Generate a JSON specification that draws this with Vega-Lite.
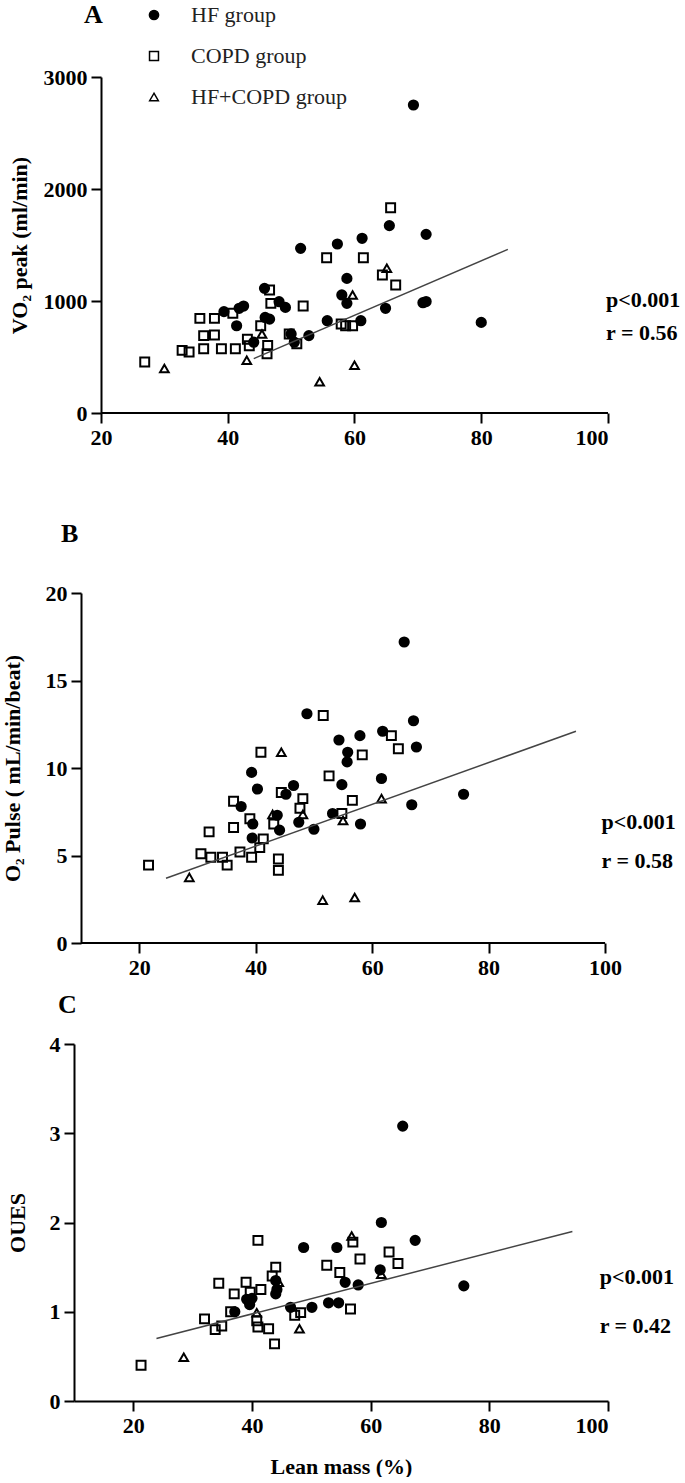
{
  "$schema": "https://vega.github.io/schema/vega-lite/v6.json",
  "background": "white",
  "padding": {"left": 1, "top": 2, "right": 0, "bottom": 0},
  "config": {
    "view": {"stroke": null},
    "font": "Liberation Serif",
    "axis": {"grid": false, "domainColor": "black", "domainWidth": 2, "tickColor": "black", "tickWidth": 2, "tickSize": 10, "format": "d",
      "labelFont": "Liberation Serif", "labelFontSize": 22, "labelFontWeight": "bold", "labelColor": "black", "labelPadding": 4,
      "titleFont": "Liberation Serif", "titleFontSize": 22, "titleFontWeight": "bold", "titleColor": "black", "titlePadding": 16},
    "legend": {"orient": "none", "legendX": 69, "legendY": -73, "title": null, "labelFont": "Liberation Serif", "labelFontSize": 22, "labelFontWeight": "normal", "labelColor": "#222", "rowPadding": 19, "labelOffset": 26, "padding": 0},
    "title": {"font": "Liberation Serif", "fontSize": 26, "fontWeight": "bold", "anchor": "start", "frame": "group", "color": "black"}
  },
  "datasets": {
    "A": [
      {"x": 69.3, "y": 2750, "g": "HF group"}, {"x": 65.5, "y": 1673, "g": "HF group"}, {"x": 71.3, "y": 1595, "g": "HF group"},
      {"x": 61.2, "y": 1560, "g": "HF group"}, {"x": 57.3, "y": 1509, "g": "HF group"}, {"x": 51.5, "y": 1470, "g": "HF group"},
      {"x": 58.8, "y": 1202, "g": "HF group"}, {"x": 58.0, "y": 1054, "g": "HF group"}, {"x": 58.8, "y": 979, "g": "HF group"},
      {"x": 70.8, "y": 985, "g": "HF group"}, {"x": 71.3, "y": 995, "g": "HF group"}, {"x": 64.9, "y": 935, "g": "HF group"},
      {"x": 45.8, "y": 1113, "g": "HF group"}, {"x": 48.1, "y": 994, "g": "HF group"}, {"x": 49.1, "y": 943, "g": "HF group"},
      {"x": 42.5, "y": 955, "g": "HF group"}, {"x": 41.8, "y": 935, "g": "HF group"}, {"x": 39.4, "y": 905, "g": "HF group"},
      {"x": 45.9, "y": 853, "g": "HF group"}, {"x": 46.6, "y": 838, "g": "HF group"}, {"x": 41.4, "y": 779, "g": "HF group"},
      {"x": 44.1, "y": 632, "g": "HF group"}, {"x": 50.0, "y": 706, "g": "HF group"}, {"x": 50.5, "y": 632, "g": "HF group"},
      {"x": 52.8, "y": 691, "g": "HF group"}, {"x": 55.7, "y": 824, "g": "HF group"}, {"x": 61.0, "y": 824, "g": "HF group"},
      {"x": 80.0, "y": 809, "g": "HF group"},
      {"x": 65.7, "y": 1833, "g": "COPD group"}, {"x": 55.6, "y": 1387, "g": "COPD group"}, {"x": 61.4, "y": 1387, "g": "COPD group"},
      {"x": 64.4, "y": 1232, "g": "COPD group"}, {"x": 66.5, "y": 1143, "g": "COPD group"}, {"x": 51.9, "y": 955, "g": "COPD group"},
      {"x": 46.6, "y": 1098, "g": "COPD group"}, {"x": 46.8, "y": 979, "g": "COPD group"}, {"x": 40.8, "y": 890, "g": "COPD group"},
      {"x": 35.6, "y": 845, "g": "COPD group"}, {"x": 37.9, "y": 845, "g": "COPD group"}, {"x": 26.9, "y": 456, "g": "COPD group"},
      {"x": 32.8, "y": 559, "g": "COPD group"}, {"x": 33.9, "y": 544, "g": "COPD group"}, {"x": 36.2, "y": 691, "g": "COPD group"},
      {"x": 37.9, "y": 697, "g": "COPD group"}, {"x": 36.2, "y": 574, "g": "COPD group"}, {"x": 39.0, "y": 574, "g": "COPD group"},
      {"x": 41.2, "y": 574, "g": "COPD group"}, {"x": 43.1, "y": 659, "g": "COPD group"}, {"x": 43.4, "y": 600, "g": "COPD group"},
      {"x": 46.2, "y": 529, "g": "COPD group"}, {"x": 46.3, "y": 603, "g": "COPD group"}, {"x": 45.2, "y": 779, "g": "COPD group"},
      {"x": 49.7, "y": 706, "g": "COPD group"}, {"x": 50.9, "y": 618, "g": "COPD group"}, {"x": 57.9, "y": 794, "g": "COPD group"},
      {"x": 58.6, "y": 779, "g": "COPD group"}, {"x": 59.7, "y": 779, "g": "COPD group"},
      {"x": 65.1, "y": 1292, "g": "HF+COPD group"}, {"x": 59.7, "y": 1054, "g": "HF+COPD group"}, {"x": 30.0, "y": 397, "g": "HF+COPD group"},
      {"x": 43.0, "y": 471, "g": "HF+COPD group"}, {"x": 45.4, "y": 706, "g": "HF+COPD group"}, {"x": 60.0, "y": 426, "g": "HF+COPD group"},
      {"x": 54.5, "y": 279, "g": "HF+COPD group"}
    ],
    "B": [
      {"x": 65.5, "y": 17.2, "g": "HF group"}, {"x": 48.8, "y": 13.1, "g": "HF group"}, {"x": 67.1, "y": 12.7, "g": "HF group"},
      {"x": 54.3, "y": 11.6, "g": "HF group"}, {"x": 57.9, "y": 11.85, "g": "HF group"}, {"x": 61.8, "y": 12.1, "g": "HF group"},
      {"x": 67.6, "y": 11.2, "g": "HF group"}, {"x": 55.8, "y": 10.9, "g": "HF group"}, {"x": 55.7, "y": 10.35, "g": "HF group"},
      {"x": 61.6, "y": 9.4, "g": "HF group"}, {"x": 54.8, "y": 9.05, "g": "HF group"}, {"x": 46.5, "y": 9.0, "g": "HF group"},
      {"x": 45.2, "y": 8.5, "g": "HF group"}, {"x": 40.3, "y": 8.8, "g": "HF group"}, {"x": 39.3, "y": 9.75, "g": "HF group"},
      {"x": 37.5, "y": 7.8, "g": "HF group"}, {"x": 39.5, "y": 6.8, "g": "HF group"}, {"x": 39.4, "y": 6.0, "g": "HF group"},
      {"x": 43.7, "y": 7.3, "g": "HF group"}, {"x": 44.1, "y": 6.45, "g": "HF group"}, {"x": 47.4, "y": 6.9, "g": "HF group"},
      {"x": 50.0, "y": 6.5, "g": "HF group"}, {"x": 53.2, "y": 7.4, "g": "HF group"}, {"x": 58.0, "y": 6.8, "g": "HF group"},
      {"x": 66.8, "y": 7.9, "g": "HF group"}, {"x": 75.7, "y": 8.5, "g": "HF group"},
      {"x": 51.6, "y": 13.0, "g": "COPD group"}, {"x": 63.3, "y": 11.85, "g": "COPD group"}, {"x": 64.5, "y": 11.1, "g": "COPD group"},
      {"x": 58.3, "y": 10.75, "g": "COPD group"}, {"x": 52.6, "y": 9.55, "g": "COPD group"}, {"x": 56.6, "y": 8.15, "g": "COPD group"},
      {"x": 40.9, "y": 10.9, "g": "COPD group"}, {"x": 44.4, "y": 8.6, "g": "COPD group"}, {"x": 48.1, "y": 8.25, "g": "COPD group"},
      {"x": 47.6, "y": 7.7, "g": "COPD group"}, {"x": 36.2, "y": 8.1, "g": "COPD group"}, {"x": 39.0, "y": 7.1, "g": "COPD group"},
      {"x": 36.2, "y": 6.6, "g": "COPD group"}, {"x": 32.0, "y": 6.35, "g": "COPD group"}, {"x": 43.1, "y": 6.8, "g": "COPD group"},
      {"x": 41.3, "y": 5.95, "g": "COPD group"}, {"x": 40.7, "y": 5.45, "g": "COPD group"}, {"x": 37.3, "y": 5.2, "g": "COPD group"},
      {"x": 39.3, "y": 4.9, "g": "COPD group"}, {"x": 30.6, "y": 5.1, "g": "COPD group"}, {"x": 32.3, "y": 4.9, "g": "COPD group"},
      {"x": 34.3, "y": 4.9, "g": "COPD group"}, {"x": 35.1, "y": 4.45, "g": "COPD group"}, {"x": 43.9, "y": 4.8, "g": "COPD group"},
      {"x": 43.9, "y": 4.15, "g": "COPD group"}, {"x": 21.6, "y": 4.45, "g": "COPD group"}, {"x": 54.8, "y": 7.4, "g": "COPD group"},
      {"x": 28.6, "y": 3.75, "g": "HF+COPD group"}, {"x": 42.9, "y": 7.35, "g": "HF+COPD group"}, {"x": 44.4, "y": 10.9, "g": "HF+COPD group"},
      {"x": 48.1, "y": 7.35, "g": "HF+COPD group"}, {"x": 55.0, "y": 7.0, "g": "HF+COPD group"}, {"x": 61.6, "y": 8.25, "g": "HF+COPD group"},
      {"x": 51.5, "y": 2.45, "g": "HF+COPD group"}, {"x": 57.0, "y": 2.6, "g": "HF+COPD group"}
    ],
    "C": [
      {"x": 65.4, "y": 3.08, "g": "HF group"}, {"x": 61.8, "y": 2.0, "g": "HF group"}, {"x": 67.5, "y": 1.8, "g": "HF group"},
      {"x": 48.7, "y": 1.72, "g": "HF group"}, {"x": 54.3, "y": 1.72, "g": "HF group"}, {"x": 57.9, "y": 1.3, "g": "HF group"},
      {"x": 55.7, "y": 1.33, "g": "HF group"}, {"x": 61.6, "y": 1.47, "g": "HF group"}, {"x": 75.7, "y": 1.29, "g": "HF group"},
      {"x": 52.9, "y": 1.1, "g": "HF group"}, {"x": 54.6, "y": 1.1, "g": "HF group"}, {"x": 50.1, "y": 1.05, "g": "HF group"},
      {"x": 46.5, "y": 1.05, "g": "HF group"}, {"x": 37.1, "y": 1.0, "g": "HF group"}, {"x": 39.1, "y": 1.14, "g": "HF group"},
      {"x": 39.6, "y": 1.08, "g": "HF group"}, {"x": 44.0, "y": 1.35, "g": "HF group"}, {"x": 44.2, "y": 1.25, "g": "HF group"},
      {"x": 44.0, "y": 1.2, "g": "HF group"}, {"x": 40.0, "y": 1.15, "g": "HF group"},
      {"x": 21.3, "y": 0.4, "g": "COPD group"}, {"x": 32.0, "y": 0.92, "g": "COPD group"}, {"x": 33.8, "y": 0.8, "g": "COPD group"},
      {"x": 34.9, "y": 0.84, "g": "COPD group"}, {"x": 34.4, "y": 1.32, "g": "COPD group"}, {"x": 36.4, "y": 1.0, "g": "COPD group"},
      {"x": 37.0, "y": 1.2, "g": "COPD group"}, {"x": 39.0, "y": 1.33, "g": "COPD group"}, {"x": 39.7, "y": 1.22, "g": "COPD group"},
      {"x": 40.8, "y": 0.9, "g": "COPD group"}, {"x": 41.0, "y": 0.83, "g": "COPD group"}, {"x": 41.5, "y": 1.25, "g": "COPD group"},
      {"x": 42.8, "y": 0.81, "g": "COPD group"}, {"x": 43.8, "y": 0.64, "g": "COPD group"}, {"x": 44.0, "y": 1.5, "g": "COPD group"},
      {"x": 43.4, "y": 1.4, "g": "COPD group"}, {"x": 47.2, "y": 0.96, "g": "COPD group"}, {"x": 48.2, "y": 0.99, "g": "COPD group"},
      {"x": 52.6, "y": 1.52, "g": "COPD group"}, {"x": 54.8, "y": 1.44, "g": "COPD group"}, {"x": 56.6, "y": 1.03, "g": "COPD group"},
      {"x": 58.2, "y": 1.59, "g": "COPD group"}, {"x": 63.1, "y": 1.67, "g": "COPD group"}, {"x": 64.6, "y": 1.54, "g": "COPD group"},
      {"x": 41.0, "y": 1.8, "g": "COPD group"}, {"x": 57.0, "y": 1.78, "g": "COPD group"},
      {"x": 28.5, "y": 0.49, "g": "HF+COPD group"}, {"x": 40.8, "y": 0.99, "g": "HF+COPD group"}, {"x": 44.5, "y": 1.33, "g": "HF+COPD group"},
      {"x": 48.0, "y": 0.81, "g": "HF+COPD group"}, {"x": 61.8, "y": 1.42, "g": "HF+COPD group"}, {"x": 56.8, "y": 1.85, "g": "HF+COPD group"}
    ],
    "lineA": [{"x": 44.1, "y": 485}, {"x": 84.2, "y": 1461}],
    "lineB": [{"x": 24.6, "y": 3.7}, {"x": 95.0, "y": 12.1}],
    "lineC": [{"x": 23.9, "y": 0.7}, {"x": 94.0, "y": 1.9}],
    "axisA": [{"x": 20, "x2": 100, "y": 0}],
    "axisB": [{"x": 10, "x2": 100, "y": 0}],
    "statsA": [{"x": 99.7, "y": 1010, "t": "p<0.001"}, {"x": 99.7, "y": 714, "t": "r = 0.56"}],
    "statsB": [{"x": 99.4, "y": 6.9, "t": "p<0.001"}, {"x": 99.4, "y": 4.7, "t": "r = 0.58"}],
    "statsC": [{"x": 98.6, "y": 1.39, "t": "p<0.001"}, {"x": 98.6, "y": 0.84, "t": "r = 0.42"}]
  },
  "spacing": 14,
  "vconcat": [
    {
      "width": 534, "height": 336,
      "title": {"text": "A", "dx": 10, "offset": 38},
      "layer": [
        {"data": {"name": "axisA"}, "mark": {"type": "rule", "color": "black", "strokeWidth": 2},
         "encoding": {"x": {"field": "x", "type": "quantitative"}, "x2": {"field": "x2"}, "y": {"field": "y", "type": "quantitative"}}},
        {"data": {"name": "A"},
         "mark": {"type": "point", "filled": true, "stroke": "black", "strokeWidth": 2, "opacity": 1},
         "encoding": {
           "x": {"field": "x", "type": "quantitative", "scale": {"domain": [15.74, 100], "nice": false, "zero": false}, "axis": {"values": [20, 40, 60, 80, 100], "title": null, "domain": false}},
           "y": {"field": "y", "type": "quantitative", "scale": {"domain": [0, 3000], "nice": false}, "axis": {"values": [0, 1000, 2000, 3000], "title": "VO₂ peak (ml/min)", "titlePadding": 12, "offset": -27}},
           "size": {"field": "g", "type": "nominal", "scale": {"domain": ["HF group", "COPD group", "HF+COPD group"], "range": [85, 75, 105]},
             "legend": {"encode": {"symbols": {"update": {"stroke": {"value": "black"}, "strokeWidth": {"value": 2}}}}}},
           "shape": {"field": "g", "type": "nominal", "scale": {"domain": ["HF group", "COPD group", "HF+COPD group"], "range": ["circle", "square", "triangle-up"]},
             "legend": {"encode": {"symbols": {"update": {"stroke": {"value": "black"}, "strokeWidth": {"value": 2}}}}}},
           "fill": {"field": "g", "type": "nominal", "scale": {"domain": ["HF group", "COPD group", "HF+COPD group"], "range": ["black", "transparent", "transparent"]},
             "legend": {"encode": {"symbols": {"update": {"stroke": {"value": "black"}, "strokeWidth": {"value": 2}}}}}}
         }},
        {"data": {"name": "lineA"}, "mark": {"type": "line", "color": "#444", "strokeWidth": 1.5},
         "encoding": {"x": {"field": "x", "type": "quantitative"}, "y": {"field": "y", "type": "quantitative"}}},
        {"data": {"name": "statsA"}, "mark": {"type": "text", "align": "left", "baseline": "middle", "font": "Liberation Serif", "fontSize": 22, "fontWeight": "bold", "color": "black"},
         "encoding": {"x": {"field": "x", "type": "quantitative"}, "y": {"field": "y", "type": "quantitative"}, "text": {"field": "t"}}}
      ]
    },
    {
      "width": 534, "height": 350,
      "title": {"text": ["", "B"], "lineHeight": 59, "dx": -13, "offset": 35},
      "layer": [
        {"data": {"name": "axisB"}, "mark": {"type": "rule", "color": "black", "strokeWidth": 2},
         "encoding": {"x": {"field": "x", "type": "quantitative"}, "x2": {"field": "x2"}, "y": {"field": "y", "type": "quantitative"}}},
        {"data": {"name": "B"},
         "mark": {"type": "point", "filled": true, "stroke": "black", "strokeWidth": 2, "opacity": 1},
         "encoding": {
           "x": {"field": "x", "type": "quantitative", "scale": {"domain": [8.8, 100.5], "nice": false, "zero": false}, "axis": {"values": [20, 40, 60, 80, 100], "title": null, "domain": false}},
           "y": {"field": "y", "type": "quantitative", "scale": {"domain": [0, 20], "nice": false}, "axis": {"values": [0, 5, 10, 15, 20], "title": "O₂ Pulse ( mL/min/beat)", "titlePadding": 21, "offset": -7}},
           "size": {"field": "g", "type": "nominal", "scale": {"domain": ["HF group", "COPD group", "HF+COPD group"], "range": [85, 75, 105]}, "legend": null},
           "shape": {"field": "g", "type": "nominal", "scale": {"domain": ["HF group", "COPD group", "HF+COPD group"], "range": ["circle", "square", "triangle-up"]}, "legend": null},
           "fill": {"field": "g", "type": "nominal", "scale": {"domain": ["HF group", "COPD group", "HF+COPD group"], "range": ["black", "transparent", "transparent"]}, "legend": null}
         }},
        {"data": {"name": "lineB"}, "mark": {"type": "line", "color": "#444", "strokeWidth": 1.5},
         "encoding": {"x": {"field": "x", "type": "quantitative"}, "y": {"field": "y", "type": "quantitative"}}},
        {"data": {"name": "statsB"}, "mark": {"type": "text", "align": "left", "baseline": "middle", "font": "Liberation Serif", "fontSize": 22, "fontWeight": "bold", "color": "black"},
         "encoding": {"x": {"field": "x", "type": "quantitative"}, "y": {"field": "y", "type": "quantitative"}, "text": {"field": "t"}}}
      ]
    },
    {
      "width": 534, "height": 357,
      "title": {"text": "C", "dx": -16, "offset": 15},
      "layer": [
        {"data": {"name": "C"},
         "mark": {"type": "point", "filled": true, "stroke": "black", "strokeWidth": 2, "opacity": 1},
         "encoding": {
           "x": {"field": "x", "type": "quantitative", "scale": {"domain": [10, 100], "nice": false, "zero": false}, "axis": {"values": [20, 40, 60, 80, 100], "title": "Lean mass (%)", "titlePadding": 20}},
           "y": {"field": "y", "type": "quantitative", "scale": {"domain": [0, 4], "nice": false}, "axis": {"values": [0, 1, 2, 3, 4], "title": "OUES", "titlePadding": 20}},
           "size": {"field": "g", "type": "nominal", "scale": {"domain": ["HF group", "COPD group", "HF+COPD group"], "range": [85, 75, 105]}, "legend": null},
           "shape": {"field": "g", "type": "nominal", "scale": {"domain": ["HF group", "COPD group", "HF+COPD group"], "range": ["circle", "square", "triangle-up"]}, "legend": null},
           "fill": {"field": "g", "type": "nominal", "scale": {"domain": ["HF group", "COPD group", "HF+COPD group"], "range": ["black", "transparent", "transparent"]}, "legend": null}
         }},
        {"data": {"name": "lineC"}, "mark": {"type": "line", "color": "#444", "strokeWidth": 1.5},
         "encoding": {"x": {"field": "x", "type": "quantitative"}, "y": {"field": "y", "type": "quantitative"}}},
        {"data": {"name": "statsC"}, "mark": {"type": "text", "align": "left", "baseline": "middle", "font": "Liberation Serif", "fontSize": 22, "fontWeight": "bold", "color": "black"},
         "encoding": {"x": {"field": "x", "type": "quantitative"}, "y": {"field": "y", "type": "quantitative"}, "text": {"field": "t"}}}
      ]
    }
  ]
}
